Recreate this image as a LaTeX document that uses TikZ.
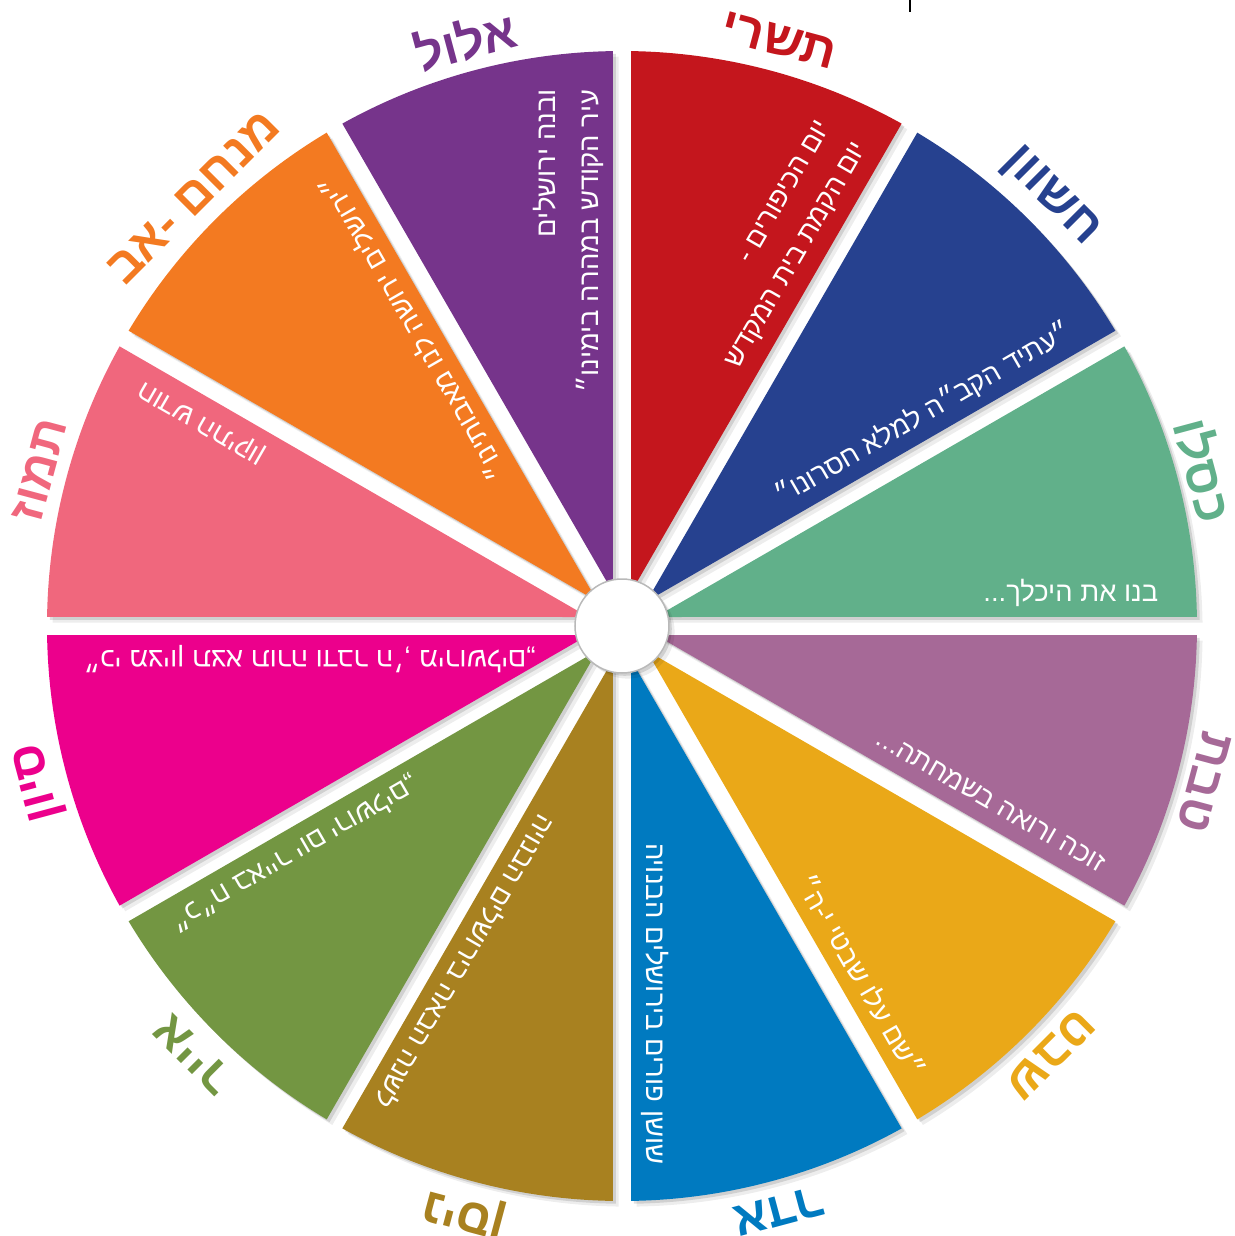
\documentclass[tikz,border=0pt]{standalone}
\usepackage{fontspec}
\newfontfamily\hebfont[Script=Hebrew]{Liberation Sans}
\TeXXeTstate=1
\definecolor{tishrei}{HTML}{C4161D}
\definecolor{heshvan}{HTML}{26418F}
\definecolor{kislev}{HTML}{61B08A}
\definecolor{tevet}{HTML}{A66997}
\definecolor{shvat}{HTML}{EAA818}
\definecolor{adar}{HTML}{007AC0}
\definecolor{nisan}{HTML}{A88120}
\definecolor{iyar}{HTML}{739642}
\definecolor{sivan}{HTML}{EC008C}
\definecolor{tammuz}{HTML}{F0677D}
\definecolor{av}{HTML}{F37A21}
\definecolor{elul}{HTML}{76348B}

\begin{document}
\begin{tikzpicture}[x=0.1mm,y=0.1mm,
        wedge/.style={preaction={fill=black,opacity=0.07,
            transform canvas={xshift=1.6pt,yshift=-1.6pt}},
            preaction={fill=black,opacity=0.12,
            transform canvas={xshift=0.8pt,yshift=-0.8pt}}},
        month/.style={font=\hebfont\bfseries\fontsize{14}{14}\selectfont,
            inner sep=0pt},
        saying/.style={font=\hebfont\fontsize{7.8}{12}\selectfont,
            text=white,inner sep=0pt,anchor=east}]
        \useasboundingbox (-622,-610) rectangle (613,626);

        % Wedges
        \path [wedge,fill=tishrei] (75:34.8) -- (60.9:575)
            arc [start angle=60.9, end angle=89.1, radius=575] -- cycle;
        \path [wedge,fill=heshvan] (45:34.8) -- (30.9:575)
            arc [start angle=30.9, end angle=59.1, radius=575] -- cycle;
        \path [wedge,fill=kislev] (15:34.8) -- (0.9:575)
            arc [start angle=0.9, end angle=29.1, radius=575] -- cycle;
        \path [wedge,fill=tevet] (-15:34.8) -- (-29.1:575)
            arc [start angle=-29.1, end angle=-0.9, radius=575] -- cycle;
        \path [wedge,fill=shvat] (-45:34.8) -- (-59.1:575)
            arc [start angle=-59.1, end angle=-30.9, radius=575] -- cycle;
        \path [wedge,fill=adar] (-75:34.8) -- (-89.1:575)
            arc [start angle=-89.1, end angle=-60.9, radius=575] -- cycle;
        \path [wedge,fill=nisan] (-105:34.8) -- (-119.1:575)
            arc [start angle=-119.1, end angle=-90.9, radius=575] -- cycle;
        \path [wedge,fill=iyar] (-135:34.8) -- (-149.1:575)
            arc [start angle=-149.1, end angle=-120.9, radius=575] -- cycle;
        \path [wedge,fill=sivan] (195:34.8) -- (180.9:575)
            arc [start angle=180.9, end angle=209.1, radius=575] -- cycle;
        \path [wedge,fill=tammuz] (165:34.8) -- (150.9:575)
            arc [start angle=150.9, end angle=179.1, radius=575] -- cycle;
        \path [wedge,fill=av] (135:34.8) -- (120.9:575)
            arc [start angle=120.9, end angle=149.1, radius=575] -- cycle;
        \path [wedge,fill=elul] (105:34.8) -- (90.9:575)
            arc [start angle=90.9, end angle=119.1, radius=575] -- cycle;

        % Hub
        \node (hub) [circle,fill=white,draw=gray!55,line width=0.15mm,
            minimum size=9.4mm,inner sep=0pt,wedge] at (0,0) {};

        % Month names
        \node (m-tishrei) [month,text=tishrei,rotate=-15] at (75:606) {\beginR תשרי\endR};
        \node (m-heshvan) [month,text=heshvan,rotate=-45] at (45:606) {\beginR חשוון\endR};
        \node (m-kislev) [month,text=kislev,rotate=-75] at (15:603) {\beginR כסלו\endR};
        \node (m-tevet) [month,text=tevet,rotate=-105] at (-15:603) {\beginR טבת\endR};
        \node (m-shvat) [month,text=shvat,rotate=-135] at (-45:606) {\beginR שבט\endR};
        \node (m-adar) [month,text=adar,rotate=-165] at (-75:606) {\beginR אדר\endR};
        \node (m-nisan) [month,text=nisan,rotate=165] at (-105:606) {\beginR ניסן\endR};
        \node (m-iyar) [month,text=iyar,rotate=135] at (-135:606) {\beginR אייר\endR};
        \node (m-sivan) [month,text=sivan,rotate=105] at (195:603) {\beginR סיון\endR};
        \node (m-tammuz) [month,text=tammuz,rotate=75] at (165:603) {\beginR תמוז\endR};
        \node (m-av) [month,text=av,rotate=45] at (135:606) {\beginR מנחם -אב\endR};
        \node (m-elul) [month,text=elul,rotate=15] at (105:606) {\beginR אלול\endR};

        % Sayings
        \node (s-tishrei) [saying,rotate=60,align=right] at (65.7:540)
            {\beginR יום הכיפורים -\endR\\\beginR יום הקמת בית המקדש\endR};
        \node (s-heshvan) [saying,rotate=30] at (33.5:538)
            {\beginR ״עתיד הקב״ה למלא חסרונו״\endR};
        \node (s-kislev) [saying,rotate=0] at (3.5:538)
            {\beginR בנו את היכלך...\endR};
        \node (s-tevet) [saying,rotate=-30] at (-26.5:538)
            {\beginR זוכה ורואה בשמחתה...\endR};
        \node (s-shvat) [saying,rotate=-60] at (-56.5:538)
            {\beginR ״שם עלו שבטי י-ה״\endR};
        \node (s-adar) [saying,rotate=-90] at (-86.5:540)
            {\beginR שושן פורים בירושלים הבנויה\endR};
        \node (s-nisan) [saying,rotate=-120] at (-116.5:538)
            {\beginR לשנה הבאה בירושלים הבנויה\endR};
        \node (s-iyar) [saying,rotate=-150] at (-146.5:540)
            {\beginR ״כ״ח באייר יום ירושלים„\endR};
        \node (s-sivan) [saying,rotate=180] at (183.5:540)
            {\beginR ״כי מציון תצא תורה ודבר ה׳, מירושלים„\endR};
        \node (s-tammuz) [saying,rotate=150] at (153.5:538)
            {\beginR חודש התיקון\endR};
        \node (s-av) [saying,rotate=120] at (123.5:538)
            {\beginR ״ירושלים ירושה לנו מאבותינו״\endR};
        \node (s-elul) [saying,rotate=90,align=right] at (95.7:540)
            {\beginR ובנה ירושלים\endR\\\beginR עיר הקודש במהרה בימינו״\endR};

        % Cut-off mark at the top edge
        \draw [line width=0.2mm] (288,626) -- (288,614);
    \end{tikzpicture}
\end{document}
